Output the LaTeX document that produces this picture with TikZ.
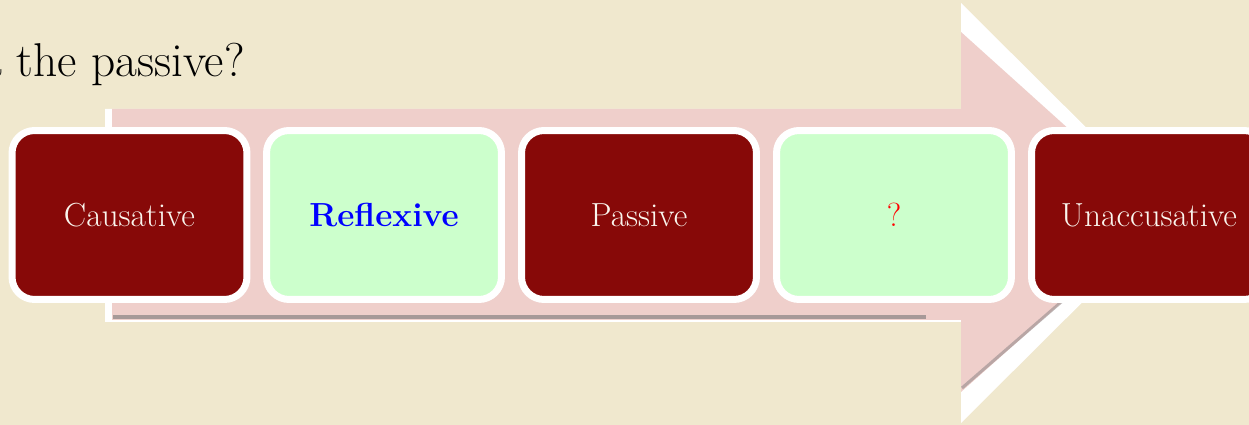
\documentclass[tikz,border=0pt]{standalone}
\definecolor{bg}{RGB}{240,232,206}
\definecolor{arrowpink}{RGB}{239,207,203}
\definecolor{boxred}{RGB}{135,9,8}
\definecolor{boxgreen}{RGB}{204,255,204}
\definecolor{txtcream}{RGB}{250,246,238}
\definecolor{shadowgray}{RGB}{150,140,140}
\tikzset{
  stepbox/.style={draw=white, line width=0.14cm, rounded corners=0.45cm,
    minimum width=4.7cm, minimum height=3.38cm, inner sep=0pt,
    font=\fontsize{19}{22}\selectfont},
  redbox/.style={stepbox, fill=boxred, text=txtcream},
  greenbox/.style={stepbox, fill=boxgreen},
}
\begin{document}
\begin{tikzpicture}[x=0.02cm,y=-0.02cm]
\useasboundingbox[fill=bg] (0,0) rectangle (1249,425);
% title
\node[anchor=base west, inner sep=0pt, font=\fontsize{27}{32}\selectfont] (title) at (-20,77) {a the passive?};
% arrow: white halo
\fill[white] (105,109) -- (961,109) -- (961,3) -- (1172,213) -- (961,423) -- (961,322) -- (105,322) -- cycle;
% arrow body and head
\fill[arrowpink] (112,109) -- (961,109) -- (961,32) -- (1162,213) -- (961,392) -- (961,320) -- (112,320) -- cycle;
% shadows
\draw[shadowgray, line width=0.07cm, opacity=0.8] (113,317) -- (926,317);
\draw[shadowgray, line width=0.06cm, opacity=0.6] (962,388) -- (1075,290);
% steps
\node[redbox]   (causative) at (129.5,215) {Causative};
\node[greenbox, text=blue, font=\fontsize{19}{22}\selectfont\bfseries] (reflexive) at (384,215) {Reflexive};
\node[redbox]   (passive) at (639,215) {Passive};
\node[greenbox, text=red] (unknown) at (894,215) {?};
\node[redbox]   (unaccusative) at (1149,215) {Unaccusative};
\end{tikzpicture}
\end{document}
